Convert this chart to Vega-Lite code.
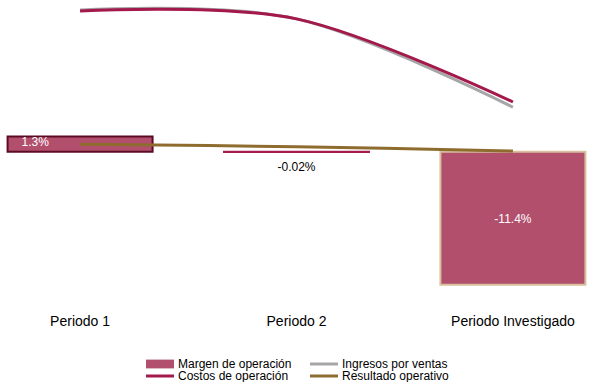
{
  "$schema": "https://vega.github.io/schema/vega-lite/v6.json",
  "width": 593,
  "height": 300,
  "padding": {"left": 0, "right": 0, "top": 0, "bottom": 0},
  "config": {
    "font": "Liberation Sans",
    "view": {"stroke": null},
    "legend": {"layout": {"bottom": {"anchor": "middle"}}}
  },
  "datasets": {
    "barras": [
      {"periodo": "Periodo 1", "serie": "Margen de operación", "margen": 1.3, "etiqueta": "1.3%"},
      {"periodo": "Periodo 2", "serie": "Margen de operación", "margen": -0.02, "etiqueta": "-0.02%"},
      {"periodo": "Periodo Investigado", "serie": "Margen de operación", "margen": -11.4, "etiqueta": "-11.4%"}
    ],
    "lineas": [
      {"periodo": "Periodo 1", "serie": "Ingresos por ventas", "valor": 100},
      {"periodo": "Periodo 2", "serie": "Ingresos por ventas", "valor": 93.7},
      {"periodo": "Periodo Investigado", "serie": "Ingresos por ventas", "valor": 31.5},
      {"periodo": "Periodo 1", "serie": "Costos de operación", "valor": 99.3},
      {"periodo": "Periodo 2", "serie": "Costos de operación", "valor": 93.7},
      {"periodo": "Periodo Investigado", "serie": "Costos de operación", "valor": 35.2},
      {"periodo": "Periodo 1", "serie": "Resultado operativo", "valor": 5.4},
      {"periodo": "Periodo 2", "serie": "Resultado operativo", "valor": 3.7},
      {"periodo": "Periodo Investigado", "serie": "Resultado operativo", "valor": 0.7}
    ]
  },
  "encoding": {
    "x": {
      "field": "periodo",
      "type": "nominal",
      "sort": ["Periodo 1", "Periodo 2", "Periodo Investigado"],
      "scale": {"paddingInner": 0.33, "paddingOuter": 0.035},
      "axis": {
        "title": null,
        "domain": false,
        "ticks": false,
        "labelAngle": 0,
        "labelFont": "Liberation Sans",
        "labelFontSize": 14,
        "labelColor": "#000000",
        "labelPadding": 14
      }
    }
  },
  "layer": [
    {
      "data": {"name": "barras"},
      "layer": [
        {
          "mark": {"type": "bar", "strokeWidth": 2},
          "encoding": {
            "y": {
              "field": "margen",
              "type": "quantitative",
              "scale": {"domain": [-12.7, 13.0], "nice": false, "zero": false},
              "axis": null
            },
            "color": {
              "field": "serie",
              "type": "nominal",
              "scale": {
                "domain": ["Margen de operación", "Ingresos por ventas", "Costos de operación", "Resultado operativo"],
                "range": ["#B24F6D", "#A6A6A6", "#A3194B", "#8E6C2E"]
              },
              "legend": {
                "orient": "bottom",
                "title": null,
                "columns": 2,
                "columnPadding": 16,
                "rowPadding": 0,
                "labelFont": "Liberation Sans",
                "labelFontSize": 12,
                "labelColor": "#000000",
                "symbolType": "M-1,-0.375H6V0.375H-1Z",
                "symbolSize": 64,
                "symbolStrokeWidth": 0,
                "symbolOpacity": 1,
                "labelOffset": 22,
                "offset": 30
              }
            },
            "stroke": {
              "condition": [
                {"test": "datum.periodo === 'Periodo 1'", "value": "#5C0B27"},
                {"test": "datum.periodo === 'Periodo 2'", "value": "#A61C4F"}
              ],
              "value": "#D8C09E"
            }
          }
        },
        {
          "transform": [{"filter": "datum.periodo === 'Periodo 1'"}],
          "mark": {"type": "text", "align": "left", "baseline": "top", "dx": 14, "dy": 0, "fontSize": 12, "color": "#FFFFFF"},
          "encoding": {
            "x": {"field": "periodo", "type": "nominal", "sort": ["Periodo 1", "Periodo 2", "Periodo Investigado"], "bandPosition": 0},
            "y": {"field": "margen", "type": "quantitative"},
            "text": {"field": "etiqueta"}
          }
        },
        {
          "transform": [{"filter": "datum.periodo === 'Periodo 2'"}],
          "mark": {"type": "text", "align": "center", "baseline": "top", "dy": 10, "fontSize": 12, "color": "#000000"},
          "encoding": {
            "y": {"field": "margen", "type": "quantitative"},
            "text": {"field": "etiqueta"}
          }
        },
        {
          "transform": [{"filter": "datum.periodo === 'Periodo Investigado'"}],
          "mark": {"type": "text", "align": "center", "baseline": "middle", "dy": -66, "fontSize": 12, "color": "#FFFFFF"},
          "encoding": {
            "y": {"field": "margen", "type": "quantitative"},
            "text": {"field": "etiqueta"}
          }
        }
      ]
    },
    {
      "data": {"name": "lineas"},
      "encoding": {
        "y": {
          "field": "valor",
          "type": "quantitative",
          "scale": {"domain": [-104.2, 107], "nice": false, "zero": false},
          "axis": null
        },
        "color": {"field": "serie", "type": "nominal", "legend": null}
      },
      "layer": [
        {
          "mark": {"type": "line", "interpolate": "cardinal", "tension": 0, "strokeWidth": 3},
          "encoding": {
            "order": {"field": "serie", "sort": "descending"}
          }
        },
        {
          "mark": {"type": "point", "filled": true, "opacity": 0},
          "encoding": {
            "shape": {
              "field": "serie",
              "type": "nominal",
              "scale": {
                "domain": ["Margen de operación", "Ingresos por ventas", "Costos de operación", "Resultado operativo"],
                "range": ["M-1,-1.1H6V1.1H-1Z", "M-1,-0.375H6V0.375H-1Z", "M-1,-0.375H6V0.375H-1Z", "M-1,-0.375H6V0.375H-1Z"]
              },
              "legend": {
                "orient": "bottom",
                "title": null,
                "columns": 2,
                "columnPadding": 16,
                "rowPadding": 0,
                "labelFont": "Liberation Sans",
                "labelFontSize": 12,
                "labelColor": "#000000",
                "symbolSize": 64,
                "symbolStrokeWidth": 0,
                "symbolOpacity": 1,
                "labelOffset": 22,
                "offset": 30
              }
            }
          }
        }
      ]
    }
  ],
  "resolve": {"scale": {"y": "independent"}}
}
